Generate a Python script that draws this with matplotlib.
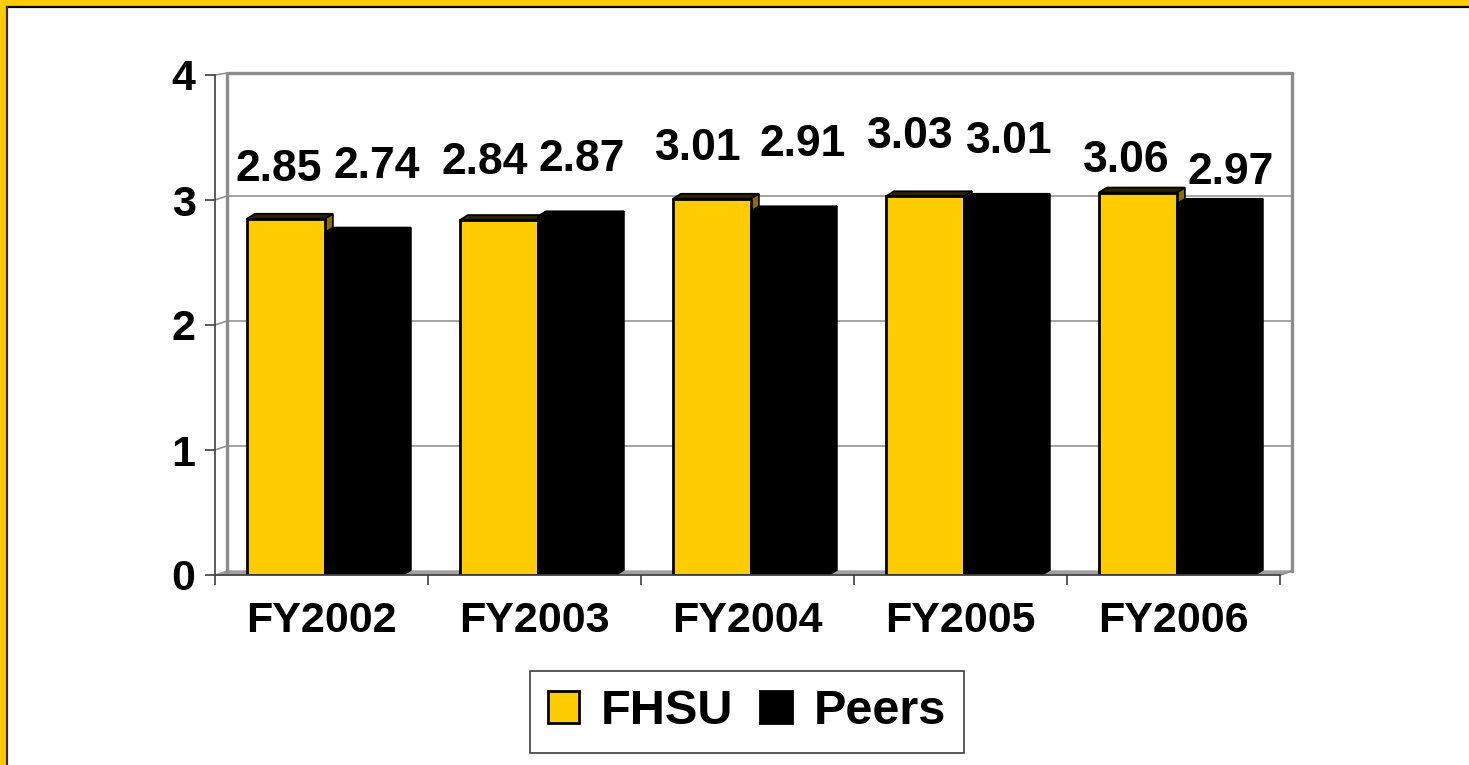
import matplotlib
matplotlib.use("Agg")
import matplotlib.pyplot as plt
from matplotlib.patches import Polygon, Patch, Rectangle
from matplotlib.lines import Line2D

## Data
years = ["FY2002", "FY2003", "FY2004", "FY2005", "FY2006"]
fhsu = [2.85, 2.84, 3.01, 3.03, 3.06]
peers = [2.74, 2.87, 2.91, 3.01, 2.97]
series_names = ["FHSU", "Peers"]

## Style
yellow = "#FFCC00"
gray = "#8C8C8C"
plt.rcParams["font.family"] = ["Liberation Sans", "DejaVu Sans"]
plt.rcParams["font.weight"] = "bold"

# label nudges in pixels (dx, dy above bar top), FHSU then Peers per year
lbl_dx = [[-7, 13], [-14, 5], [-14, 13], [-15, 6], [-12, 15]]
lbl_dy = [[29, 45], [37, 36], [30, 46], [39, 37], [12, 11]]

W, H = 1469, 765
fig = plt.figure(figsize=(W / 100, H / 100), dpi=100)
fig.patch.set_facecolor("white")

# yellow frame (top and left)
fig.add_artist(Rectangle((0, 1 - 6 / H), 1, 6 / H, transform=fig.transFigure,
                         facecolor=yellow, edgecolor="none"))
fig.add_artist(Rectangle((0, 0), 6 / W, 1, transform=fig.transFigure,
                         facecolor=yellow, edgecolor="none"))
fig.add_artist(Line2D([7 / W, 1], [1 - 7 / H, 1 - 7 / H], transform=fig.transFigure,
                      color="black", lw=1.6))
fig.add_artist(Line2D([7 / W, 7 / W], [0, 1 - 7 / H], transform=fig.transFigure,
                      color="#303020", lw=1.6))

ax_l, ax_r, ax_t, ax_b = 215, 1280, 75, 575
ax = fig.add_axes([ax_l / W, 1 - ax_b / H, (ax_r - ax_l) / W, (ax_b - ax_t) / H])
n = len(years)
ax.set_xlim(0, n)
ax.set_ylim(0, 4)
ax.patch.set_alpha(0)

px_x = (ax_r - ax_l) / n      # pixels per x unit
px_y = (ax_b - ax_t) / 4      # pixels per y unit

# back wall, offset into depth
wdx, wdy = 12 / px_x, 4 / px_y
ax.fill([0, n, n + wdx, wdx], [0, 0, wdy, wdy], color="#A0A0A0", zorder=0.5, clip_on=False)
ax.plot([wdx, wdx, n + wdx, n + wdx], [wdy, 4 + wdy * 0.5, 4 + wdy * 0.5, wdy],
        color=gray, lw=2.4, zorder=0.6, clip_on=False)
for v in [1, 2, 3]:
    ax.plot([0, wdx, n + wdx], [v, v + wdy, v + wdy], color=gray, lw=1.1, zorder=0.6, clip_on=False)
ax.plot([0, wdx], [4, 4 + wdy * 0.5], color=gray, lw=1.1, zorder=0.6, clip_on=False)
ax.plot([n, n + wdx], [0, wdy], color=gray, lw=1.1, zorder=0.6, clip_on=False)

# bars with a little 3D depth
bw = 78 / px_x
bdx, bdy = 8 / px_x, 5 / px_y
offs = [0.333, 0.333 + bw]
colors = [yellow, "black"]
sides = ["#8A6E00", "black"]
tops = ["#2A2200", "black"]
for i in range(n):
    for j, vals in enumerate([fhsu, peers]):
        x0 = i + offs[j] - bw / 2
        h = vals[i]
        ax.add_patch(Polygon([(x0 + bw, 0), (x0 + bw + bdx, bdy), (x0 + bw + bdx, h + bdy), (x0 + bw, h)],
                             closed=True, facecolor=sides[j], edgecolor="black", lw=1.2, zorder=2 + j))
        ax.add_patch(Polygon([(x0, h), (x0 + bdx, h + bdy), (x0 + bw + bdx, h + bdy), (x0 + bw, h)],
                             closed=True, facecolor=tops[j], edgecolor="black", lw=1.2, zorder=2 + j))
        ax.bar(x0, h, width=bw, align="edge", color=colors[j], edgecolor="black",
               lw=2.0, zorder=2.5 + j)
        ax.annotate(f"{h:.2f}", (i + offs[j], h), xytext=(lbl_dx[i][j], lbl_dy[i][j]),
                    textcoords="offset pixels", ha="center", va="bottom",
                    fontsize=32, fontweight="bold", zorder=6)

# front axes
for s in ["top", "right"]:
    ax.spines[s].set_visible(False)
for s in ["left", "bottom"]:
    ax.spines[s].set_color("#404040")
    ax.spines[s].set_linewidth(1.2)
    ax.spines[s].set_zorder(5)

ax.set_yticks([0, 1, 2, 3, 4])
ax.set_yticklabels(["0", "1", "2", "3", "4"], fontsize=31, fontweight="bold")
ax.set_xticks(range(n + 1))
ax.set_xticklabels([])
ax.set_xticks([i + 0.5 for i in range(n)], minor=True)
ax.set_xticklabels(years, minor=True, fontsize=31, fontweight="bold")
ax.tick_params(axis="y", length=7, width=1.2, color="#404040", pad=7)
ax.tick_params(axis="x", which="major", length=7, width=1.2, color="#404040")
ax.tick_params(axis="x", which="minor", length=0, pad=19)

handles = [Patch(facecolor=yellow, edgecolor="black", lw=2),
           Patch(facecolor="black", edgecolor="black", lw=2)]
leg = fig.legend(handles, series_names, loc="center", bbox_to_anchor=(747 / W, 1 - 712 / H),
                 ncol=2, prop={"weight": "bold", "size": 35},
                 handlelength=0.64, handleheight=0.64, handletextpad=0.45,
                 columnspacing=0.55, borderpad=0.38, fancybox=False, framealpha=1)
leg.get_frame().set_edgecolor("#404040")
leg.get_frame().set_linewidth(1.2)

fig.savefig("out.png", dpi=100, facecolor="white")
